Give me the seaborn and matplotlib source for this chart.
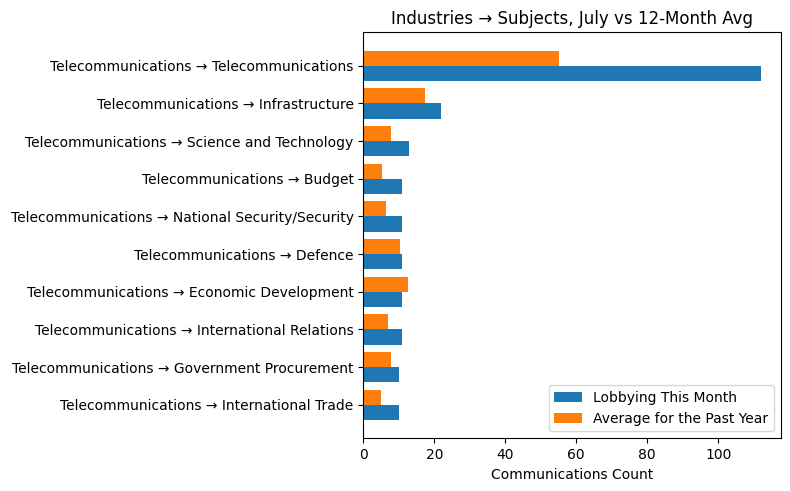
import numpy as np
import pandas as pd
import matplotlib
matplotlib.use("Agg")
import matplotlib.pyplot as plt
import seaborn as sns

# -----------------------------
# Data
# -----------------------------
subjects = [
    "Telecommunications",
    "Infrastructure",
    "Science and Technology",
    "Budget",
    "National Security/Security",
    "Defence",
    "Economic Development",
    "International Relations",
    "Government Procurement",
    "International Trade",
]
labels = [f"Telecommunications \u2192 {s}" for s in subjects]
this_month = [112, 22, 13, 11, 11, 11, 11, 11, 10, 10]
past_year_avg = [55.1, 17.4, 7.8, 5.3, 6.4, 10.3, 12.6, 6.9, 7.8, 5.0]

MONTH_LABEL = "Lobbying This Month"
AVG_LABEL = "Average for the Past Year"

df = pd.DataFrame({
    "Pair": labels * 2,
    "Count": this_month + past_year_avg,
    "Series": [MONTH_LABEL] * len(labels) + [AVG_LABEL] * len(labels),
})

# -----------------------------
# Plot
# -----------------------------
fig, ax = plt.subplots(figsize=(7.9, 4.91), dpi=100)

# orange (average) sits above the blue bar in each group
sns.barplot(
    data=df, y="Pair", x="Count", hue="Series", orient="h",
    hue_order=[AVG_LABEL, MONTH_LABEL],
    palette={MONTH_LABEL: "#1f77b4", AVG_LABEL: "#ff7f0e"},
    order=labels, width=0.8, saturation=1, ax=ax,
)

n = len(labels)
ax.set_ylim(n - 1 + 0.89, -0.89)
ax.set_xlim(0, max(this_month) * 1.05)
ax.set_xlabel("Communications Count")
ax.set_ylabel("")
ax.set_title("Industries \u2192 Subjects, July vs 12-Month Avg")

handles, leg_labels = ax.get_legend_handles_labels()
order = [leg_labels.index(MONTH_LABEL), leg_labels.index(AVG_LABEL)]
ax.legend([handles[i] for i in order], [leg_labels[i] for i in order],
          loc="lower right", title=None)

fig.subplots_adjust(left=0.4599, right=0.9882, top=0.9342, bottom=0.1073)
plt.savefig("out.png", dpi=100)
plt.close()
